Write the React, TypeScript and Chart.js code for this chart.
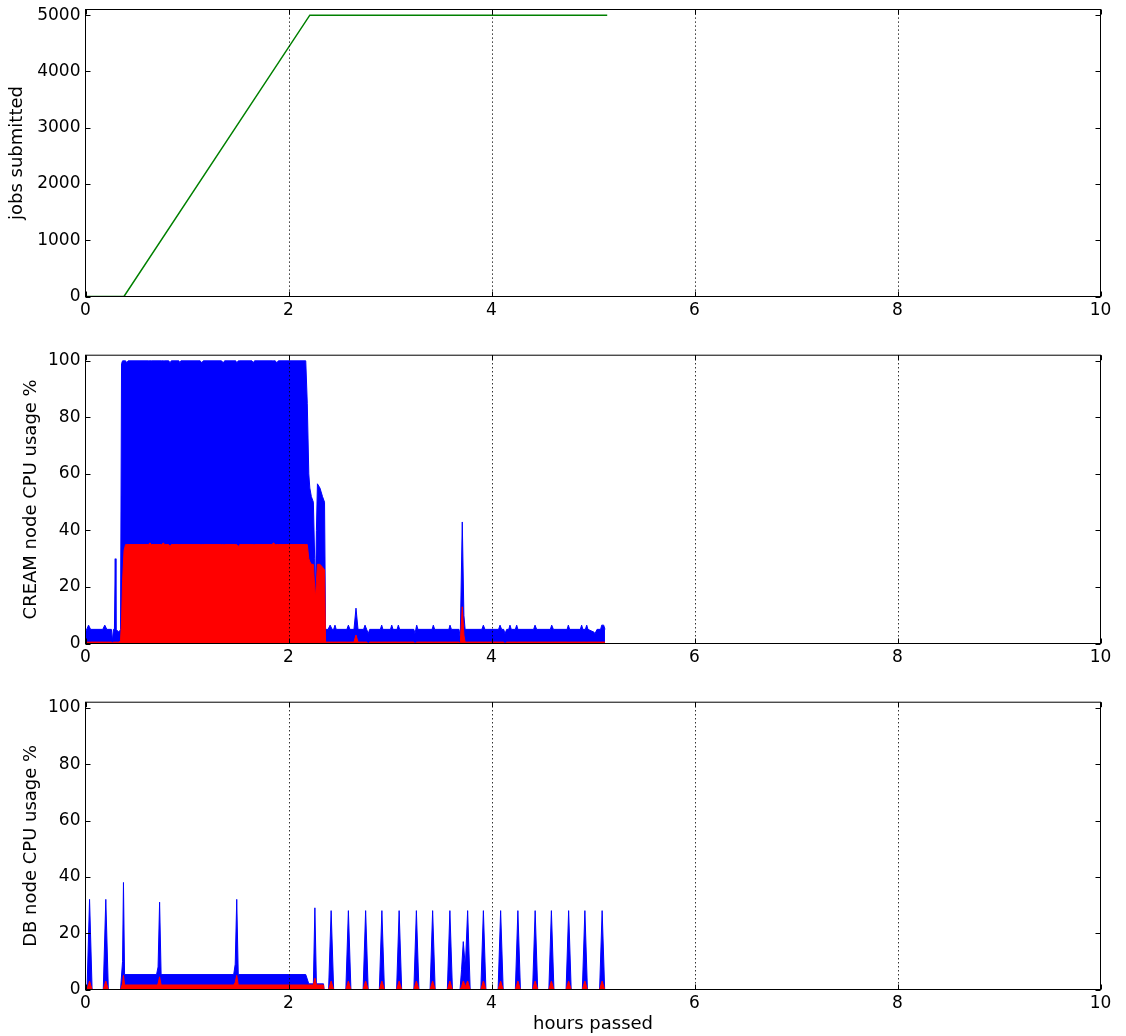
import React, { useEffect, useRef } from "react";
import { Chart, registerables } from "chart.js";
Chart.register(...registerables);

const FONT = "'DejaVu Sans', sans-serif";

// ---- axis ticks ----
const hourTicks = [0, 2, 4, 6, 8, 10];
const gridHours = [2, 4, 6, 8];
const jobsTicks = [0, 1000, 2000, 3000, 4000, 5000];
const cpuTicks = [0, 20, 40, 60, 80, 100];

// ---- panel 1: jobs submitted ----
const jobsHours = [0, 0.379, 2.21, 5.14];
const jobsSubmitted = [0, 0, 5000, 5000];

// ---- panel 2: CREAM node CPU usage % ----
const creamHours = [
  0.0, 0.03, 0.05, 0.17, 0.19, 0.21, 0.255, 0.265, 0.275, 0.285, 0.293, 0.3, 0.33, 0.345, 0.355, 0.365, 0.38, 0.395,
  0.406, 0.42, 0.62, 0.635, 0.65, 0.75, 0.767, 0.78, 0.82, 0.833, 0.845, 0.92, 0.93, 0.94, 1.13, 1.145, 1.16, 1.34,
  1.358, 1.37, 1.48, 1.49, 1.506, 1.52, 1.64, 1.653, 1.665, 1.84, 1.85, 1.87, 1.884, 1.9, 2.17, 2.185, 2.2, 2.21,
  2.225, 2.245, 2.258, 2.265, 2.275, 2.285, 2.31, 2.335, 2.355, 2.365, 2.39, 2.41, 2.43, 2.445, 2.458, 2.47, 2.575,
  2.59, 2.605, 2.645, 2.665, 2.685, 2.74, 2.754, 2.77, 2.786, 2.8, 2.905, 2.918, 2.93, 3.005, 3.017, 3.03, 3.07,
  3.082, 3.095, 3.235, 3.246, 3.263, 3.275, 3.415, 3.427, 3.44, 3.58, 3.591, 3.605, 3.68, 3.692, 3.712, 3.728, 3.74,
  3.905, 3.92, 3.935, 4.07, 4.084, 4.1, 4.12, 4.133, 4.15, 4.17, 4.182, 4.195, 4.235, 4.248, 4.26, 4.415, 4.429,
  4.445, 4.58, 4.593, 4.61, 4.745, 4.757, 4.77, 4.875, 4.888, 4.9, 4.925, 4.938, 4.95, 5.01, 5.02, 5.04, 5.075,
  5.086, 5.105, 5.118,
];
const creamTotal = [
  4, 6.5, 5, 5, 6.5, 5, 5, 1, 5, 5, 30, 5, 4, 5, 99, 100, 100, 100,
  99.3, 100, 100, 100, 100, 100, 100, 100, 100, 99.3, 100, 100, 99.3, 100, 100, 99.3, 100, 100,
  99.3, 100, 100, 99.3, 100, 100, 100, 99.3, 100, 100, 100, 100, 99.3, 100, 100, 85, 60, 55,
  52, 50, 30, 16, 40, 56.5, 55, 52, 50, 5, 5, 6.5, 5, 5, 6.5, 5, 5,
  6.5, 5, 5, 12.5, 5, 5, 6.5, 5, 3.5, 5, 5, 6.5, 5, 5, 6.5, 5, 5,
  6.5, 5, 5, 3.5, 6.5, 5, 5, 6.5, 5, 5, 6.5, 5, 5, 2, 43, 10, 5,
  5, 6.5, 5, 5, 6.5, 5, 5, 3.5, 5, 5, 6.5, 5, 5, 6.5, 5, 5, 6.5,
  5, 5, 6.5, 5, 5, 6.5, 5, 5, 6.5, 5, 5, 6.5, 5, 4, 3.5, 5, 5,
  6.5, 6.5, 5,
];
const creamUser = [
  0.5, 0.5, 0.5, 0.5, 0.5, 0.5, 0.5, 0.3, 0.5, 0.5, 0.5, 0.5, 0.5, 1, 8, 22, 33, 35,
  35, 35, 35, 35.6, 35, 35, 35.6, 35, 35, 34.3, 35, 35, 35, 35, 35, 35, 35, 35,
  35, 35, 35, 35, 34.3, 35, 35, 35, 35, 35, 35.6, 35, 35, 35, 35, 35, 30, 29,
  28, 28, 20, 16, 22, 28, 28, 27, 26, 0.5, 0.5, 0.5, 0.5, 0.5, 0.5, 0.5, 0.5,
  0.5, 0.5, 0.5, 3, 0.5, 0.5, 0.5, 0.5, 0, 0.5, 0.5, 0.5, 0.5, 0.5, 0.5, 0.5, 0.5,
  0.5, 0.5, 0.5, 0, 0.5, 0.5, 0.5, 0.5, 0.5, 0.5, 0.5, 0.5, 0.5, 0, 13, 3, 0.5,
  0.5, 0.5, 0.5, 0.5, 0.5, 0.5, 0.5, 0, 0.5, 0.5, 0.5, 0.5, 0.5, 0.5, 0.5, 0.5, 0.5,
  0.5, 0.5, 0.5, 0.5, 0.5, 0.5, 0.5, 0.5, 0.5, 0.5, 0.5, 0.5, 0.5, 0.5, 0.5, 0.5, 0.5,
  0.5, 0.5, 0.5,
];

// ---- panel 3: DB node CPU usage % ----
const dbHours = [
  0.0, 0.015, 0.04, 0.065, 0.175, 0.2, 0.225, 0.345, 0.365, 0.374, 0.385, 0.7, 0.715, 0.73, 0.745, 1.46, 1.475,
  1.49, 1.505, 2.17, 2.2, 2.245, 2.26, 2.275, 2.345, 2.35, 2.395, 2.42, 2.445, 2.565, 2.59, 2.615, 2.735, 2.76,
  2.785, 2.895, 2.92, 2.945, 3.065, 3.09, 3.115, 3.235, 3.26, 3.285, 3.395, 3.42, 3.445, 3.565, 3.59, 3.615, 3.69,
  3.705, 3.722, 3.742, 3.765, 3.79, 3.895, 3.92, 3.945, 4.065, 4.09, 4.115, 4.235, 4.26, 4.285, 4.405, 4.43, 4.455,
  4.565, 4.59, 4.615, 4.735, 4.76, 4.785, 4.895, 4.92, 4.945, 5.065, 5.09, 5.115,
];
const dbTotal = [
  0, 0, 32, 0, 0, 32, 0, 0, 10, 38, 5.3, 5.3, 8, 31, 5.3, 5.3, 9,
  32, 5.3, 5.3, 2, 2, 29, 2, 2, 0, 0, 28, 0, 0, 28, 0, 0, 28,
  0, 0, 28, 0, 0, 28, 0, 0, 28, 0, 0, 28, 0, 0, 28, 0, 0,
  7, 17, 8, 28, 0, 0, 28, 0, 0, 28, 0, 0, 28, 0, 0, 28, 0,
  0, 28, 0, 0, 28, 0, 0, 28, 0, 0, 28, 0,
];
const dbUser = [
  0, 0, 3, 0, 0, 3, 0, 0, 2, 5, 1.6, 1.6, 2, 4.5, 1.6, 1.6, 2.5,
  5, 1.6, 1.6, 1.6, 1.6, 4, 1.6, 1.6, 0, 0, 3, 0, 0, 3, 0, 0, 3,
  0, 0, 3, 0, 0, 3, 0, 0, 3, 0, 0, 3, 0, 0, 3, 0, 0,
  1, 3, 1, 3, 0, 0, 3, 0, 0, 3, 0, 0, 3, 0, 0, 3, 0,
  0, 3, 0, 0, 3, 0, 0, 3, 0, 0, 3, 0,
];

const toPoints = (xs: number[], ys: number[]) => xs.map((x, i) => ({ x, y: ys[i] }));

const framePlugin = {
  id: "mplFrame",
  afterDatasetsDraw(chart: any) {
    const { ctx, chartArea: a, scales } = chart;
    const xs = scales.x;
    const ys = scales.y;
    const tl = 5;
    ctx.save();
    ctx.strokeStyle = "#000";
    ctx.lineWidth = 1;
    // dotted vertical grid
    ctx.setLineDash([1.2, 2.8]);
    gridHours.forEach((h) => {
      const px = Math.round(xs.getPixelForValue(h)) + 0.5;
      ctx.beginPath();
      ctx.moveTo(px, a.top);
      ctx.lineTo(px, a.bottom);
      ctx.stroke();
    });
    ctx.setLineDash([]);
    // inward ticks on all sides
    ctx.beginPath();
    xs.ticks.forEach((t: any) => {
      const px = Math.round(xs.getPixelForValue(t.value)) + 0.5;
      ctx.moveTo(px, a.bottom);
      ctx.lineTo(px, a.bottom - tl);
      ctx.moveTo(px, a.top);
      ctx.lineTo(px, a.top + tl);
    });
    ys.ticks.forEach((t: any) => {
      const py = Math.round(ys.getPixelForValue(t.value)) + 0.5;
      ctx.moveTo(a.left, py);
      ctx.lineTo(a.left + tl, py);
      ctx.moveTo(a.right, py);
      ctx.lineTo(a.right - tl, py);
    });
    ctx.stroke();
    ctx.strokeRect(a.left, a.top, a.right - a.left, a.bottom - a.top);
    ctx.restore();
  },
};

type PanelProps = {
  top: number;
  height: number;
  padTop: number;
  axisHeight: number;
  yMax: number;
  yTicks: number[];
  yTitle: string;
  yTitlePad: number;
  xTitle?: string;
  makeDatasets: () => any[];
};

function Panel(p: PanelProps) {
  const ref = useRef<HTMLCanvasElement>(null);
  useEffect(() => {
    const tickFont = { family: FONT, size: 17 };
    const titleFont = { family: FONT, size: 18 };
    const chart = new Chart(ref.current as HTMLCanvasElement, {
      type: "line",
      data: { datasets: p.makeDatasets() },
      options: {
        animation: false,
        responsive: false,
        events: [],
        layout: { padding: { top: p.padTop, right: 25.5, left: 0, bottom: 0 } },
        plugins: { legend: { display: false }, tooltip: { enabled: false } },
        scales: {
          x: {
            type: "linear",
            min: 0,
            max: 10,
            grid: { display: false, drawTicks: false },
            border: { display: false },
            ticks: {
              autoSkip: false,
              maxRotation: 0,
              padding: 4,
              color: "#000",
              font: tickFont,
              callback: (v: any) => String(v),
            },
            afterBuildTicks: (s: any) => {
              s.ticks = hourTicks.map((v) => ({ value: v }));
            },
            afterFit: (s: any) => {
              s.height = p.axisHeight;
            },
            title: p.xTitle
              ? { display: true, text: p.xTitle, color: "#000", font: titleFont, padding: { top: 0, bottom: 0.5 } }
              : { display: false },
          },
          y: {
            type: "linear",
            min: 0,
            max: p.yMax,
            grid: { display: false, drawTicks: false },
            border: { display: false },
            ticks: {
              autoSkip: false,
              padding: 5,
              color: "#000",
              font: tickFont,
              callback: (v: any) => String(v),
            },
            afterBuildTicks: (s: any) => {
              s.ticks = p.yTicks.map((v) => ({ value: v }));
            },
            afterFit: (s: any) => {
              s.width = 85.5;
            },
            title: { display: true, text: p.yTitle, color: "#000", font: titleFont, padding: { top: p.yTitlePad, bottom: 0 } },
          },
        },
      } as any,
      plugins: [framePlugin],
    });
    return () => chart.destroy();
  }, []);
  return (
    <canvas
      ref={ref}
      width={1126}
      height={p.height}
      style={{ position: "absolute", left: 0, top: p.top, width: 1126, height: p.height, display: "block" }}
    />
  );
}

const fillSet = (label: string, xs: number[], ys: number[], color: string) => ({
  label,
  data: toPoints(xs, ys),
  borderColor: color,
  backgroundColor: color,
  borderWidth: 1,
  pointRadius: 0,
  tension: 0,
  fill: "origin",
});

export default function App() {
  return (
    <div style={{ position: "absolute", left: 0, top: 0, width: 1126, height: 1036, background: "#fff", overflow: "hidden" }}>
      <Panel
        top={-10}
        height={350}
        padTop={19.5}
        axisHeight={43.5}
        yMax={5100}
        yTicks={jobsTicks}
        yTitle="jobs submitted"
        yTitlePad={6.7}
        makeDatasets={() => [
          {
            label: "jobs submitted",
            data: toPoints(jobsHours, jobsSubmitted),
            borderColor: "#008000",
            borderWidth: 1.5,
            pointRadius: 0,
            tension: 0,
            fill: false,
          },
        ]}
      />
      <Panel
        top={340}
        height={347}
        padTop={14.5}
        axisHeight={43.5}
        yMax={102}
        yTicks={cpuTicks}
        yTitle="CREAM node CPU usage %"
        yTitlePad={20.6}
        makeDatasets={() => [
          fillSet("user", creamHours, creamUser, "#ff0000"),
          fillSet("total", creamHours, creamTotal, "#0000ff"),
        ]}
      />
      <Panel
        top={687}
        height={349}
        padTop={13.5}
        axisHeight={46.5}
        yMax={102}
        yTicks={cpuTicks}
        yTitle="DB node CPU usage %"
        yTitlePad={20.6}
        xTitle="hours passed"
        makeDatasets={() => [
          fillSet("user", dbHours, dbUser, "#ff0000"),
          fillSet("total", dbHours, dbTotal, "#0000ff"),
        ]}
      />
    </div>
  );
}
